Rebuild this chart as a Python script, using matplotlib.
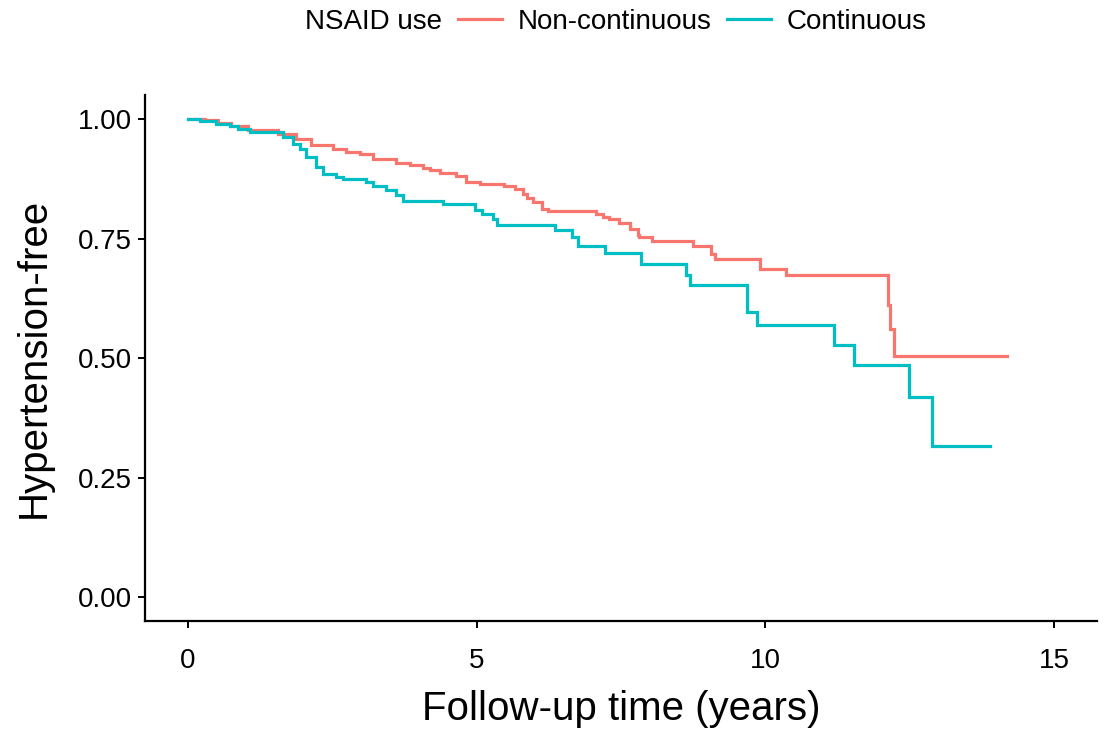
import numpy as np
import matplotlib.pyplot as plt
from matplotlib.lines import Line2D

plt.rcParams['font.family'] = ['Liberation Sans', 'DejaVu Sans']

# Kaplan-Meier estimates (time in years, survival after event)
noncont_time = [0.0, 0.29, 0.52, 0.74, 1.04, 1.56, 1.87, 2.13, 2.51, 2.73, 2.98,
                3.20, 3.60, 3.84, 4.07, 4.19, 4.36, 4.64, 4.81, 5.05, 5.48, 5.67,
                5.80, 5.88, 5.97, 6.14, 6.23, 7.06, 7.18, 7.30, 7.47, 7.65, 7.79,
                7.82, 8.04, 8.74, 9.05, 9.12, 9.91, 10.35, 12.13, 12.16, 12.23]
noncont_surv = [1.000, 0.998, 0.992, 0.985, 0.977, 0.969, 0.958, 0.946, 0.937,
                0.931, 0.927, 0.916, 0.908, 0.904, 0.897, 0.893, 0.887, 0.881,
                0.868, 0.864, 0.860, 0.854, 0.843, 0.835, 0.826, 0.812, 0.808,
                0.801, 0.795, 0.791, 0.782, 0.770, 0.757, 0.753, 0.745, 0.734,
                0.718, 0.707, 0.686, 0.674, 0.611, 0.561, 0.504]
noncont_end = 14.19

cont_time = [0.0, 0.21, 0.48, 0.73, 0.87, 1.07, 1.64, 1.82, 1.94, 2.04, 2.21,
             2.34, 2.56, 2.68, 3.08, 3.20, 3.43, 3.60, 3.72, 4.41, 4.98, 5.10,
             5.28, 5.36, 6.35, 6.66, 6.75, 7.23, 7.84, 8.62, 8.69, 9.69, 9.86,
             11.19, 11.54, 12.49, 12.89]
cont_surv = [1.000, 0.996, 0.990, 0.985, 0.979, 0.973, 0.962, 0.948, 0.937,
             0.921, 0.900, 0.885, 0.879, 0.874, 0.868, 0.860, 0.851, 0.841,
             0.828, 0.822, 0.810, 0.801, 0.791, 0.778, 0.768, 0.753, 0.734,
             0.720, 0.697, 0.674, 0.653, 0.596, 0.569, 0.527, 0.485, 0.418,
             0.316]
cont_end = 13.89

groups = ['Non-continuous', 'Continuous']
colors = ['#F8766D', '#00BFC4']

fig = plt.figure(figsize=(11.04, 7.31), dpi=100)
ax = fig.add_axes([0.131, 0.150, 0.863, 0.720])

curves = [(noncont_time, noncont_surv, noncont_end),
          (cont_time, cont_surv, cont_end)]
for (t, s, end), col in zip(curves, colors):
    tt = list(t) + [end]
    ss = list(s) + [s[-1]]
    ax.step(tt, ss, where='post', color=col, lw=2.3, solid_joinstyle='miter')

ax.set_xlim(-0.75, 15.75)
ax.set_ylim(-0.05, 1.05)
ax.set_xticks([0, 5, 10, 15])
ax.set_yticks([0.0, 0.25, 0.5, 0.75, 1.0])
ax.set_yticklabels(['0.00', '0.25', '0.50', '0.75', '1.00'])
ax.tick_params(axis='both', labelsize=20, length=5, width=1.4, color='black',
               labelcolor='black')
ax.tick_params(axis='x', pad=14)
ax.tick_params(axis='y', pad=4)
for side in ['top', 'right']:
    ax.spines[side].set_visible(False)
for side in ['left', 'bottom']:
    ax.spines[side].set_linewidth(1.6)
ax.set_xlabel('Follow-up time (years)', fontsize=29, labelpad=12)
ax.set_ylabel('Hypertension-free', fontsize=29, labelpad=18)

# legend on top, title to the left like ggplot
fig.text(305 / 1104, 1 - 22 / 731, 'NSAID use', fontsize=20, ha='left', va='center')
handles = [Line2D([], [], color=c, lw=2.3) for c in colors]
fig.legend(handles, groups, loc='center left', bbox_to_anchor=(458 / 1104, 1 - 22 / 731),
           ncol=2, frameon=False, fontsize=20, handlelength=1.6, handletextpad=0.55,
           columnspacing=0.55, borderaxespad=0, borderpad=0)

fig.savefig('out.png', dpi=100)
